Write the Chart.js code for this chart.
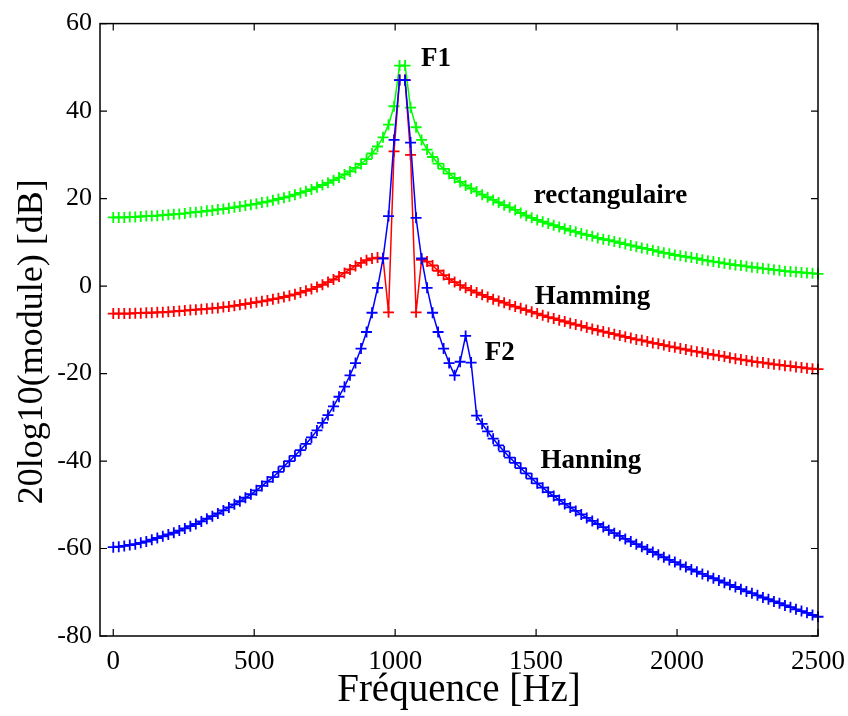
<!DOCTYPE html>
<html>
<head>
<meta charset="utf-8">
<script src="https://cdn.jsdelivr.net/npm/chart.js@4.4.1/dist/chart.umd.min.js"></script>
<style>
  body { margin: 0; background: #fff; }
</style>
</head>
<body>
<canvas id="myChart" width="848" height="716"></canvas>
<script>
//DATA----------------------------------------------------------------START
// frequency bins [Hz]
var freq = [
  0, 19.53, 39.06, 58.59, 78.13, 97.66, 117.19, 136.72, 156.25, 175.78,
  195.31, 214.84, 234.38, 253.91, 273.44, 292.97, 312.5, 332.03, 351.56, 371.09,
  390.63, 410.16, 429.69, 449.22, 468.75, 488.28, 507.81, 527.34, 546.88, 566.41,
  585.94, 605.47, 625, 644.53, 664.06, 683.59, 703.13, 722.66, 742.19, 761.72,
  781.25, 800.78, 820.31, 839.84, 859.38, 878.91, 898.44, 917.97, 937.5, 957.03,
  976.56, 996.09, 1015.63, 1035.16, 1054.69, 1074.22, 1093.75, 1113.28, 1132.81, 1152.34,
  1171.88, 1191.41, 1210.94, 1230.47, 1250, 1269.53, 1289.06, 1308.59, 1328.13, 1347.66,
  1367.19, 1386.72, 1406.25, 1425.78, 1445.31, 1464.84, 1484.38, 1503.91, 1523.44, 1542.97,
  1562.5, 1582.03, 1601.56, 1621.09, 1640.63, 1660.16, 1679.69, 1699.22, 1718.75, 1738.28,
  1757.81, 1777.34, 1796.88, 1816.41, 1835.94, 1855.47, 1875, 1894.53, 1914.06, 1933.59,
  1953.13, 1972.66, 1992.19, 2011.72, 2031.25, 2050.78, 2070.31, 2089.84, 2109.38, 2128.91,
  2148.44, 2167.97, 2187.5, 2207.03, 2226.56, 2246.09, 2265.63, 2285.16, 2304.69, 2324.22,
  2343.75, 2363.28, 2382.81, 2402.34, 2421.88, 2441.41, 2460.94, 2480.47, 2500
];

// fenetre rectangulaire [dB]
var rectangulaire = [
  15.7, 15.7, 15.7, 15.8, 15.8, 15.9, 16.0, 16.0, 16.1, 16.2,
  16.3, 16.4, 16.5, 16.6, 16.8, 16.9, 17.0, 17.2, 17.3, 17.5,
  17.6, 17.8, 18.0, 18.2, 18.4, 18.6, 18.8, 19.1, 19.3, 19.6,
  19.9, 20.2, 20.5, 20.9, 21.3, 21.7, 22.1, 22.6, 23.1, 23.6,
  24.2, 24.8, 25.5, 26.2, 27.0, 27.9, 29.0, 30.3, 31.9, 34.0,
  36.9, 41.1, 50.4, 50.4, 40.8, 36.3, 33.4, 31.2, 29.5, 28.0,
  26.8, 25.7, 24.7, 23.8, 23.0, 22.3, 21.6, 20.9, 20.3, 19.7,
  19.1, 18.5, 18.0, 17.4, 16.7, 16.1, 15.6, 15.1, 14.7, 14.3,
  13.9, 13.5, 13.1, 12.7, 12.4, 12.0, 11.7, 11.4, 11.0, 10.7,
  10.5, 10.2, 9.9, 9.6, 9.3, 9.0, 8.7, 8.5, 8.2, 7.9,
  7.6, 7.4, 7.1, 6.9, 6.7, 6.5, 6.3, 6.0, 5.8, 5.6,
  5.4, 5.2, 5.0, 4.8, 4.7, 4.5, 4.3, 4.2, 4.0, 3.9,
  3.7, 3.6, 3.4, 3.3, 3.2, 3.1, 3.0, 2.9, 2.8
];

// fenetre de Hamming [dB]
var hamming = [
  -6.3, -6.3, -6.3, -6.3, -6.2, -6.2, -6.1, -6.1, -6.0, -6.0,
  -5.9, -5.8, -5.7, -5.6, -5.5, -5.4, -5.3, -5.2, -5.1, -5.0,
  -4.8, -4.7, -4.5, -4.3, -4.1, -3.9, -3.7, -3.5, -3.3, -3.0,
  -2.8, -2.5, -2.2, -1.9, -1.5, -1.1, -0.7, -0.2, 0.3, 0.9,
  1.5, 2.2, 3.0, 3.8, 4.6, 5.3, 5.9, 6.3, 6.5, 6.4,
  -6.0, 30.8, 47.1, 47.1, 30.0, -6.0, 6.0, 5.6, 4.7, 3.5,
  2.5, 1.6, 0.9, 0.2, -0.4, -1.0, -1.5, -2.0, -2.5, -3.0,
  -3.4, -3.8, -4.3, -4.7, -5.1, -5.5, -5.9, -6.3, -6.7, -7.1,
  -7.4, -7.8, -8.1, -8.5, -8.8, -9.1, -9.5, -9.8, -10.1, -10.4,
  -10.7, -11.0, -11.3, -11.6, -11.9, -12.2, -12.4, -12.7, -13.0, -13.2,
  -13.5, -13.8, -14.0, -14.3, -14.5, -14.8, -15.0, -15.2, -15.5, -15.7,
  -15.9, -16.1, -16.4, -16.6, -16.8, -17.0, -17.2, -17.4, -17.5, -17.7,
  -17.9, -18.0, -18.2, -18.3, -18.5, -18.6, -18.8, -18.9, -19.0
];

// fenetre de Hanning [dB]
var hanning = [
  -59.7, -59.6, -59.4, -59.2, -59.0, -58.7, -58.4, -58.0, -57.6, -57.2,
  -56.8, -56.4, -55.9, -55.4, -54.9, -54.4, -53.8, -53.2, -52.6, -52.0,
  -51.3, -50.6, -49.9, -49.2, -48.4, -47.6, -46.7, -45.7, -44.7, -43.7,
  -42.5, -41.2, -40.0, -38.8, -37.5, -36.1, -34.6, -33.0, -31.3, -29.5,
  -27.5, -25.3, -23.0, -20.4, -17.6, -14.3, -10.5, -6.1, -0.4, 6.3,
  16.0, 33.4, 47.1, 47.1, 32.8, 15.6, 6.3, -0.4, -6.1, -10.5,
  -14.3, -17.6, -20.4, -17.3, -11.4, -17.5, -29.6, -31.5, -33.2, -34.9,
  -36.4, -37.8, -39.2, -40.4, -41.6, -42.8, -44.0, -45.1, -46.1, -47.1,
  -48.0, -48.9, -49.8, -50.6, -51.4, -52.2, -53.0, -53.7, -54.4, -55.1,
  -55.8, -56.5, -57.1, -57.8, -58.4, -59.0, -59.6, -60.2, -60.8, -61.4,
  -62.0, -62.6, -63.1, -63.7, -64.2, -64.8, -65.3, -65.8, -66.3, -66.8,
  -67.3, -67.8, -68.3, -68.8, -69.3, -69.8, -70.2, -70.7, -71.2, -71.6,
  -72.1, -72.5, -73.0, -73.4, -73.9, -74.3, -74.7, -75.2, -75.6
];

// graduations
var xTicks = [0, 500, 1000, 1500, 2000, 2500];
var yTicks = [-80, -60, -40, -20, 0, 20, 40, 60];

// annotations (text, x [Hz], y [dB])
var noteText = ['F1', 'rectangulaire', 'Hamming', 'F2', 'Hanning'];
var noteX = [1092, 1492, 1495, 1318, 1516];
var noteY = [52, 20.5, -2.5, -15.3, -40.1];
//DATA----------------------------------------------------------------END

var serif = "'Liberation Serif', 'Times New Roman', serif";

function toPoints(values) {
  return values.map(function (v, i) { return { x: freq[i], y: v }; });
}

function makeSet(label, values, color) {
  return {
    label: label,
    data: toPoints(values),
    borderColor: color,
    backgroundColor: color,
    borderWidth: 1.5,
    pointStyle: 'cross',
    pointRadius: 5.5,
    pointBorderWidth: 1.8,
    pointBorderColor: color,
    tension: 0,
    clip: false
  };
}

function setTicks(list) {
  return function (s) {
    s.ticks = list.map(function (v) { return { value: v }; });
  };
}

//CADRE + GRADUATIONS + TITRE Y----------------------------------------------------------------START
var framePlugin = {
  id: 'frame',
  afterDraw: function (chart) {
    var a = chart.chartArea, c = chart.ctx;
    var xs = chart.scales.x, ys = chart.scales.y;
    c.save();
    c.strokeStyle = '#000';
    c.lineWidth = 1.5;
    c.strokeRect(a.left, a.top, a.right - a.left, a.bottom - a.top);
    c.lineWidth = 1.2;
    c.beginPath();
    xTicks.forEach(function (v) {
      var px = xs.getPixelForValue(v);
      c.moveTo(px, a.bottom); c.lineTo(px, a.bottom - 7);
      c.moveTo(px, a.top); c.lineTo(px, a.top + 7);
    });
    yTicks.forEach(function (v) {
      var py = ys.getPixelForValue(v);
      c.moveTo(a.left, py); c.lineTo(a.left + 7, py);
      c.moveTo(a.right, py); c.lineTo(a.right - 7, py);
    });
    c.stroke();

    // titre de l'axe y (un peu plus bas que le centre, comme l'original)
    c.translate(33, (a.top + a.bottom) / 2 + 12);
    c.rotate(-Math.PI / 2);
    c.fillStyle = '#000';
    c.font = '36px ' + serif;
    c.textAlign = 'center';
    c.textBaseline = 'middle';
    c.fillText('20log10(module) [dB]', 0, 0);
    c.restore();
  }
};
//CADRE + GRADUATIONS + TITRE Y----------------------------------------------------------------END

//TEXTES SUR LES COURBES----------------------------------------------------------------START
var notesPlugin = {
  id: 'notes',
  afterDatasetsDraw: function (chart) {
    var c = chart.ctx, xs = chart.scales.x, ys = chart.scales.y;
    c.save();
    c.fillStyle = '#000';
    c.font = 'bold 27px ' + serif;
    c.textAlign = 'left';
    c.textBaseline = 'middle';
    noteText.forEach(function (t, i) {
      c.fillText(t, xs.getPixelForValue(noteX[i]), ys.getPixelForValue(noteY[i]));
    });
    c.restore();
  }
};
//TEXTES SUR LES COURBES----------------------------------------------------------------END

var ctx = document.getElementById('myChart').getContext('2d');
var myChart = new Chart(ctx, {
  type: 'line',
  data: {
    datasets: [
      makeSet('Hanning', hanning, '#0000ff'),
      makeSet('Hamming', hamming, '#ff0000'),
      makeSet('rectangulaire', rectangulaire, '#00ff00')
    ]
  },
  options: {
    responsive: false,
    animation: false,
    layout: { padding: { left: 0, right: 30, top: 22, bottom: 0 } },
    plugins: {
      legend: { display: false },
      tooltip: { enabled: false }
    },
    scales: {
      x: {
        type: 'linear',
        min: -47,
        max: 2500,
        afterBuildTicks: setTicks(xTicks),
        afterFit: function (s) {
          s.height = 80;
          s.paddingLeft = 0;
          s.paddingRight = 0;
        },
        grid: { display: false, drawTicks: false },
        border: { display: false },
        ticks: {
          padding: 10,
          maxRotation: 0,
          autoSkip: false,
          color: '#000',
          font: { family: serif, size: 27 },
          callback: function (v) { return String(v); }
        },
        title: {
          display: true,
          text: 'Fréquence [Hz]',
          color: '#000',
          font: { family: serif, size: 39 },
          padding: { top: 0, bottom: 2 }
        }
      },
      y: {
        min: -80,
        max: 60,
        afterBuildTicks: setTicks(yTicks),
        afterFit: function (s) { s.width = 100; },
        grid: { display: false, drawTicks: false },
        border: { display: false },
        ticks: {
          padding: 8,
          autoSkip: false,
          color: '#000',
          font: { family: serif, size: 26 },
          callback: function (v) { return String(v); }
        }
      }
    }
  },
  plugins: [framePlugin, notesPlugin]
});
</script>
</body>
</html>
